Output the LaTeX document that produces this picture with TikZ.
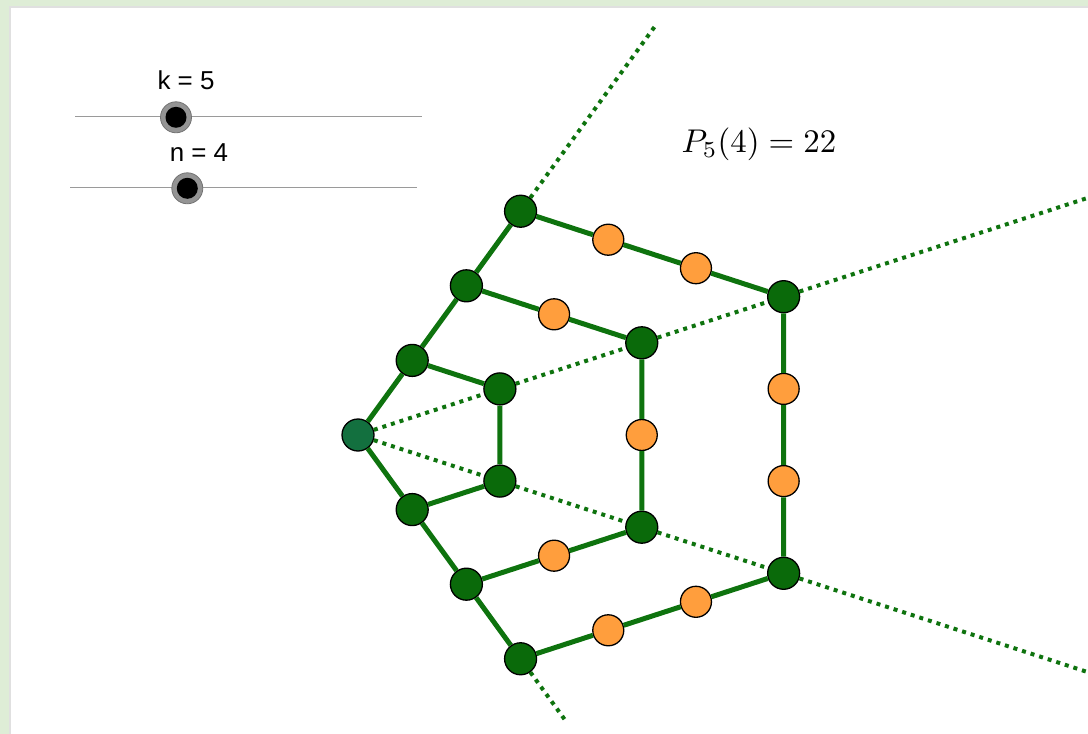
\documentclass[tikz,border=0pt]{standalone}
\usepackage{fontspec}
\newfontfamily\uisans{Liberation Sans}
\usetikzlibrary{calc}
\definecolor{gline}{HTML}{0E730E}
\definecolor{gnode}{HTML}{0A6A0A}
\definecolor{cnode}{HTML}{13703F}
\definecolor{onode}{HTML}{FF9E3D}
\definecolor{bggreen}{HTML}{DEEDD6}
\definecolor{slidergray}{HTML}{9A9A9A}
\tikzset{
  gpt/.style={circle, draw=black, line width=1.3bp, fill=gnode, minimum size=32bp, inner sep=0pt},
  cpt/.style={gpt, fill=cnode},
  opt/.style={gpt, fill=onode, minimum size=31bp},
  edge/.style={draw=gline, line width=5bp},
  ray/.style={draw=gline, line width=4bp, dash pattern=on 4bp off 5bp},
  sliderline/.style={draw=slidergray, line width=1.3bp},
  knobring/.style={circle, fill=black!42, draw=black!55, line width=0.8bp, minimum size=31bp, inner sep=0pt},
  knobdot/.style={circle, fill=black, minimum size=21bp, inner sep=0pt},
  uilabel/.style={font=\uisans\fontsize{26}{30}\selectfont, anchor=base, inner sep=0pt}
}
\begin{document}
\begin{tikzpicture}[x=1bp,y=-1bp]
\useasboundingbox (0,0) rectangle (1088,734);
\clip (0,0) rectangle (1088,734);
\fill[bggreen] (0,0) rectangle (1088,734);
\fill[black!12] (9,6) rectangle (1095,740);
\fill[white] (11,8) rectangle (1095,740);

% sliders
\coordinate (s1a) at (75,116.5);
\coordinate (s1b) at (422,116.5);
\coordinate (s2a) at (70,187.5);
\coordinate (s2b) at (417,187.5);
\draw[sliderline] (s1a) -- (s1b);
\draw[sliderline] (s2a) -- (s2b);
\node[knobring] (k1ring) at (176,117.3) {};
\node[knobdot] (k1) at (176,117.3) {};
\node[knobring] (k2ring) at (187.3,188.3) {};
\node[knobdot] (k2) at (187.3,188.3) {};
\node[uilabel] (klab) at (186,90) {k = 5};
\node[uilabel] (nlab) at (199,162) {n = 4};

% formula
\node[anchor=base, inner sep=0pt, scale=3.3] (formula) at (759,152.7) {$P_5(4)=22$};

% geometry
\coordinate (C) at (358,435);
\def\L{92.2}
\def\Dg{149.18}
\node[cpt] (c) at (C) {};
\foreach \j in {1,2,3} {
  \node[gpt] (a\j) at ($(C)+(-54:{\j*\L})$) {};
  \node[gpt] (b\j) at ($(C)+(-18:{\j*\Dg})$) {};
  \node[gpt] (d\j) at ($(C)+(18:{\j*\Dg})$) {};
  \node[gpt] (e\j) at ($(C)+(54:{\j*\L})$) {};
}
\coordinate (tA) at ($(C)+(-54:507)$);
\coordinate (tB) at ($(C)+(-18:790)$);
\coordinate (tD) at ($(C)+(18:790)$);
\coordinate (tE) at ($(C)+(54:356)$);
\foreach \j in {2,3} {
  \pgfmathtruncatemacro\jm{\j-1}
  \foreach \k in {1,...,\jm} {
    \node[opt] (ab\j-\k) at ($(a\j)!{\k/\j}!(b\j)$) {};
    \node[opt] (bd\j-\k) at ($(b\j)!{\k/\j}!(d\j)$) {};
    \node[opt] (de\j-\k) at ($(d\j)!{\k/\j}!(e\j)$) {};
  }
}

% dotted rays
\draw[ray] (a3) -- (tA);
\draw[ray] (e3) -- (tE);
\draw[ray] (c) -- (b1) -- (b2) -- (b3) -- (tB);
\draw[ray] (c) -- (d1) -- (d2) -- (d3) -- (tD);

% solid edges
\draw[edge] (c) -- (a1) -- (a2) -- (a3);
\draw[edge] (c) -- (e1) -- (e2) -- (e3);
\draw[edge] (a1) -- (b1) -- (d1) -- (e1);
\draw[edge] (a2) -- (ab2-1) -- (b2) -- (bd2-1) -- (d2) -- (de2-1) -- (e2);
\draw[edge] (a3) -- (ab3-1) -- (ab3-2) -- (b3) -- (bd3-1) -- (bd3-2) -- (d3) -- (de3-1) -- (de3-2) -- (e3);
\end{tikzpicture}
\end{document}
